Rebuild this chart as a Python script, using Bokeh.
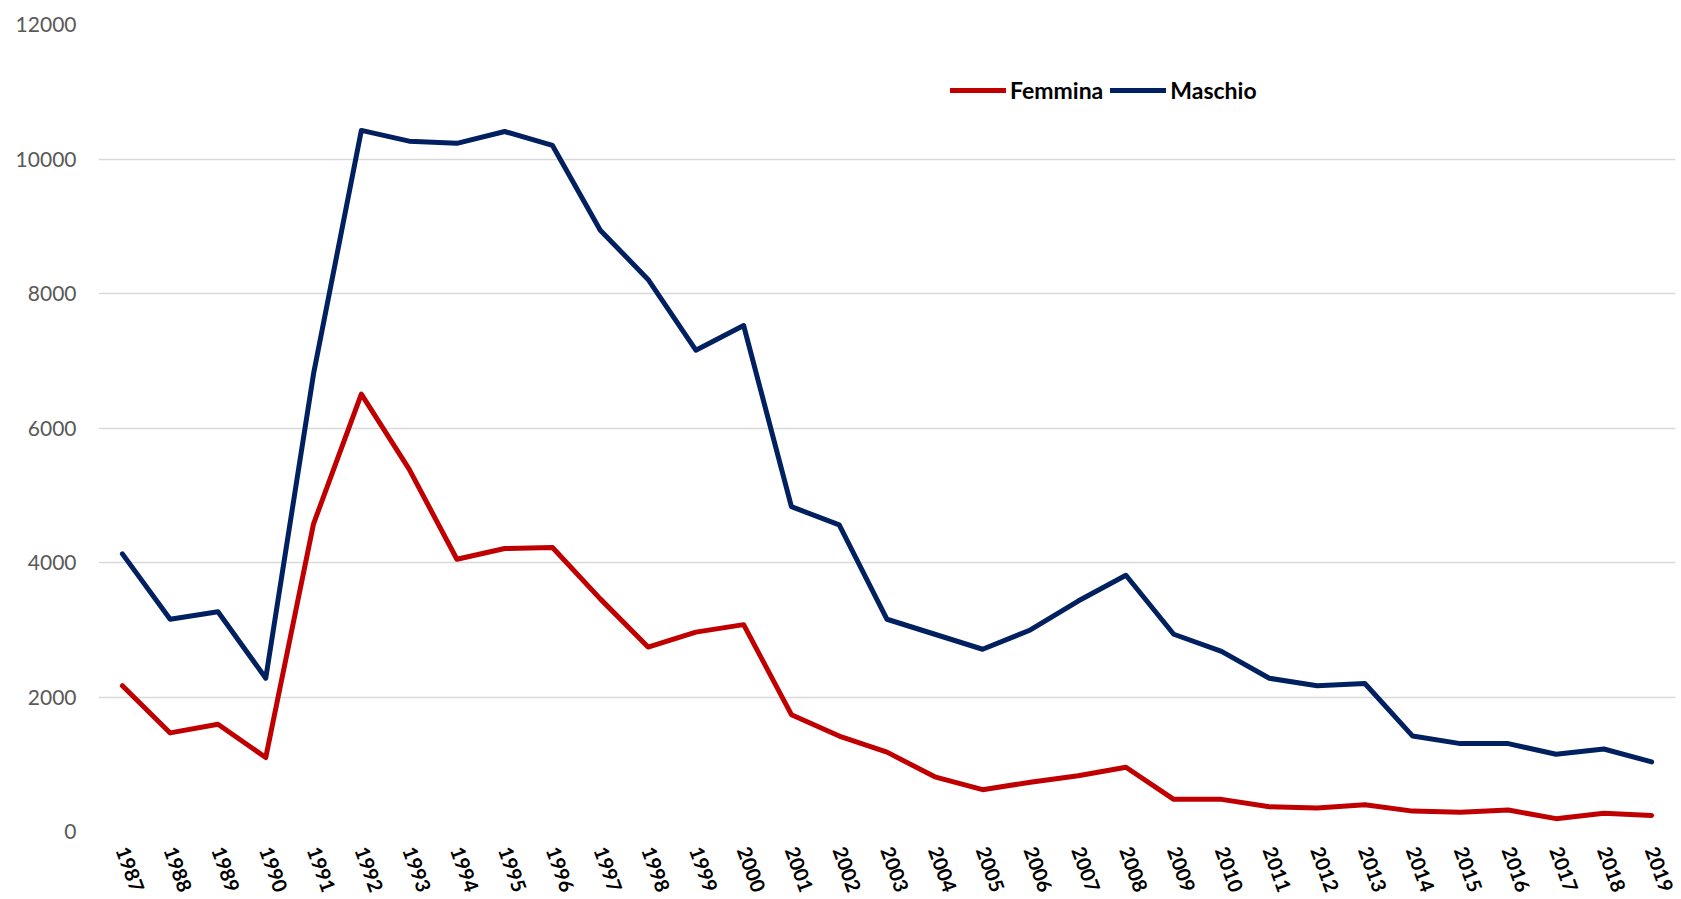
import math
from bokeh.plotting import figure
from bokeh.models import Range1d, Legend, LegendItem, FactorRange
from bokeh.embed import file_html
from bokeh.resources import INLINE

years = [str(y) for y in range(1987, 2020)]
femmina = [2168, 1466, 1594, 1100, 4575, 6504, 5388, 4049, 4208, 4224, 3459, 2742,
           2965, 3076, 1737, 1419, 1180, 813, 622, 733, 829, 956, 478, 478, 367,
           351, 399, 303, 287, 319, 191, 271, 239]
maschio = [4128, 3156, 3268, 2280, 6806, 10425, 10265, 10233, 10409, 10202, 8942,
           8209, 7157, 7524, 4830, 4559, 3156, 2933, 2710, 2997, 3427, 3810, 2933,
           2678, 2279, 2168, 2200, 1419, 1307, 1307, 1148, 1227, 1036]
y_ticks = [0, 2000, 4000, 6000, 8000, 10000, 12000]

FONT = "Lato"

p = figure(width=1681, height=899, x_range=FactorRange(*years),
           y_range=Range1d(0, 12000), output_backend="svg", toolbar_location=None,
           min_border_left=98, min_border_right=6, min_border_top=24,
           min_border_bottom=68)
p.outline_line_color = None
p.background_fill_color = "white"
p.border_fill_color = "white"

p.xgrid.grid_line_color = None
p.ygrid.grid_line_color = "#d9d9d9"
p.ygrid.grid_line_width = 1.5
p.yaxis.ticker = y_ticks

for ax in (p.xaxis, p.yaxis):
    ax.axis_line_color = None
    ax.major_tick_line_color = None
    ax.minor_tick_line_color = None
    ax.major_tick_out = 0
    ax.major_tick_in = 0

p.yaxis.major_label_text_font = FONT
p.yaxis.major_label_text_font_size = "21px"
p.yaxis.major_label_text_color = "#595959"
p.yaxis.major_label_standoff = 22

p.xaxis.major_label_text_font = FONT
p.xaxis.major_label_text_font_size = "20px"
p.xaxis.major_label_text_font_style = "bold"
p.xaxis.major_label_text_color = "black"
p.xaxis.major_label_orientation = -math.radians(70)
p.xaxis.major_label_standoff = 16

r_f = p.line(years, femmina, line_color="#C00000", line_width=5, line_join="round", line_cap="round")
r_m = p.line(years, maschio, line_color="#002060", line_width=5, line_join="round", line_cap="round")

legend = Legend(items=[LegendItem(label="Femmina", renderers=[r_f]),
                       LegendItem(label="Maschio", renderers=[r_m])],
                orientation="horizontal", location=(852, 727),
                label_text_font=FONT, label_text_font_size="23px",
                label_text_font_style="bold", label_text_color="black",
                glyph_width=56, glyph_height=22, label_standoff=4, spacing=7,
                padding=0, margin=0, border_line_color=None,
                background_fill_alpha=0)
p.add_layout(legend, "center")

open("out.html", "w").write(file_html(p, INLINE))
